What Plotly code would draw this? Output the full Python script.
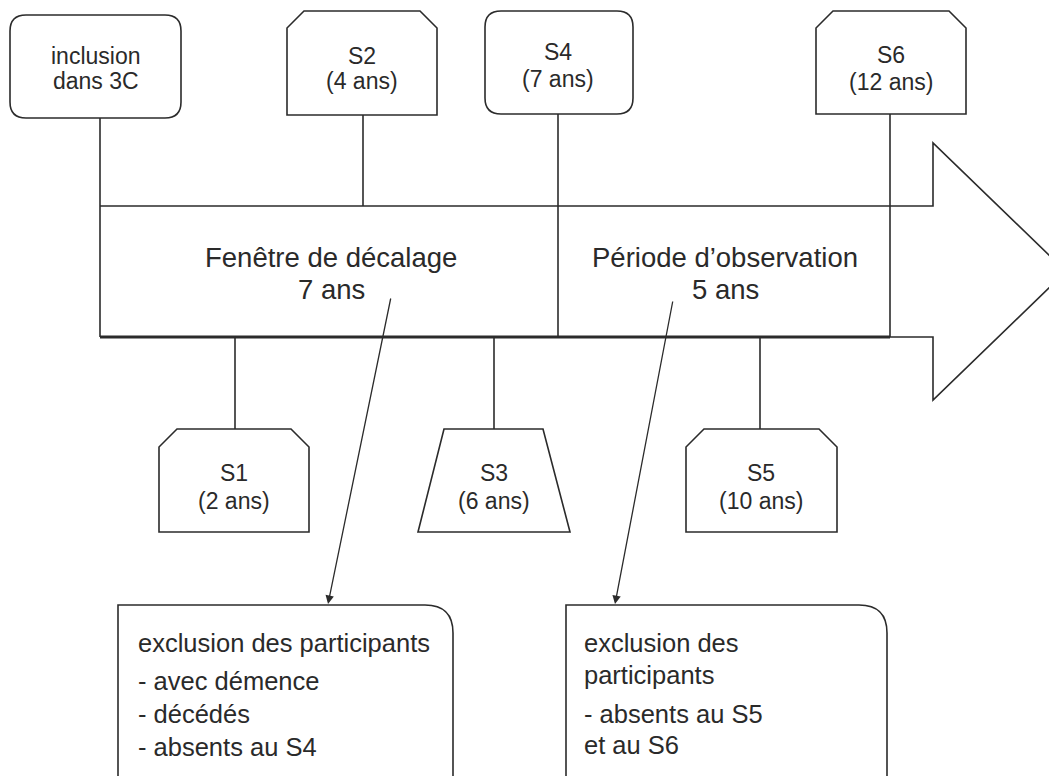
import plotly.graph_objects as go

# ---- content (text) ----
top_titles = ["inclusion", "S2", "S4", "S6"]
top_subtitles = ["dans 3C", "(4 ans)", "(7 ans)", "(12 ans)"]
bottom_titles = ["S1", "S3", "S5"]
bottom_subtitles = ["(2 ans)", "(6 ans)", "(10 ans)"]
period_titles = ["Fenêtre de décalage", "Période d\u2019observation"]
period_durations = ["7 ans", "5 ans"]
left_note = ["exclusion des participants", "- avec démence", "- décédés", "- absents au S4"]
right_note = ["exclusion des", "participants", "- absents au S5", "et au S6"]

# ---- geometry (layout of the diagram, in page pixels) ----
W, H = 1057, 776
OFF = 8  # default page margin of the browser
LINE = "#2b2b2b"
TXT = "#2a2a2a"
FONT = "Liberation Sans, Arial, sans-serif"

def rounded(x0, y0, x1, y1, r, corners="all"):
    rt = r if corners in ("all", "tr") else 0
    rl = r if corners == "all" else 0
    p = f"M{x0+rl},{y0} L{x1-rt},{y0} "
    p += f"Q{x1},{y0} {x1},{y0+rt} " if rt else ""
    p += f"L{x1},{y1-rl} "
    p += f"Q{x1},{y1} {x1-rl},{y1} " if rl else ""
    p += f"L{x0+rl},{y1} "
    p += f"Q{x0},{y1} {x0},{y1-rl} " if rl else ""
    p += f"L{x0},{y0+rl} "
    p += f"Q{x0},{y0} {x0+rl},{y0} Z" if rl else "Z"
    return p

def chamfer(x0, y0, x1, y1, c):
    return f"M{x0+c},{y0} L{x1-c},{y0} L{x1},{y0+c} L{x1},{y1} L{x0},{y1} L{x0},{y0+c} Z"

def trapezoid(xt0, xt1, xb0, xb1, y0, y1):
    return f"M{xt0},{y0} L{xt1},{y0} L{xb1},{y1} L{xb0},{y1} Z"

shapes = []
def add_path(p, width=1.6):
    shapes.append(dict(type="path", path=p, line=dict(color=LINE, width=width),
                       fillcolor="rgba(0,0,0,0)", xref="x", yref="y", layer="above"))

def add_line(x0, y0, x1, y1, width=1.6):
    shapes.append(dict(type="line", x0=x0, y0=y0, x1=x1, y1=y1,
                       line=dict(color=LINE, width=width), xref="x", yref="y", layer="above"))

# big arrow outline (open at left)
add_path("M100,206 L933,206 L933,143 L1066,271.5 L933,400 L933,337 L890,337")
add_line(100, 337, 890, 337, width=3)

# top boxes
top_boxes = [
    rounded(10, 15, 181, 118, 16),
    chamfer(287, 11, 437, 115, 17),
    rounded(485, 11, 633, 114, 16),
    chamfer(816, 11, 966, 114, 17),
]
for p in top_boxes:
    add_path(p)
top_centers = [96, 362, 558, 891]
top_title_y = [56, 56, 52, 55]
top_sub_y = [81, 81, 79, 82]

# bottom boxes
bottom_boxes = [
    chamfer(159, 429, 309, 532, 18),
    trapezoid(444, 543, 418, 570, 429, 532),
    chamfer(686, 429, 837, 532, 18),
]
for p in bottom_boxes:
    add_path(p)
bottom_centers = [234, 494, 761]

# connectors
add_line(100, 118, 100, 337)
add_line(363, 115, 363, 206)
add_line(558, 114, 558, 337)
add_line(890, 114, 890, 337)
add_line(235, 337, 235, 429)
add_line(494, 337, 494, 429)
add_line(760, 337, 760, 429)

# note boxes
add_path(rounded(118, 605, 453, 800, 28, corners="tr"))
add_path(rounded(566, 605, 887, 800, 28, corners="tr"))

annotations = []
def txt(s, x, y, size, anchor="center"):
    annotations.append(dict(text=s, x=x, y=y, xref="x", yref="y", showarrow=False,
                            xanchor=anchor, yanchor="middle",
                            font=dict(family=FONT, size=size, color=TXT)))

for t, s, cx, ty, sy in zip(top_titles, top_subtitles, top_centers, top_title_y, top_sub_y):
    txt(t, cx, ty, 23)
    txt(s, cx, sy, 23)
for t, s, cx in zip(bottom_titles, bottom_subtitles, bottom_centers):
    txt(t, cx, 473, 23)
    txt(s, cx, 501, 23)

period_centers = [331, 725]
for t, d, cx in zip(period_titles, period_durations, period_centers):
    txt(t, cx, 257, 27.5)
    txt(d, cx, 289, 27.5)

for s, y in zip(left_note, [643, 681, 714, 747]):
    txt(s, 136, y, 25.5, anchor="left")
for s, y in zip(right_note, [643, 675, 714, 745]):
    txt(s, 582, y, 25.5, anchor="left")

# pointer arrows
for (xs, ys), (xe, ye) in [((391, 297), (328, 604)), ((673, 300), (615, 604))]:
    annotations.append(dict(x=xe, y=ye, ax=xs, ay=ys, xref="x", yref="y", axref="x", ayref="y",
                            showarrow=True, arrowhead=2, arrowsize=1.3, arrowwidth=1.3,
                            arrowcolor=LINE, text=""))

fig = go.Figure()
fig.update_layout(
    width=W, height=H, margin=dict(l=0, r=0, t=0, b=0),
    paper_bgcolor="white", plot_bgcolor="white",
    xaxis=dict(range=[OFF, W + OFF], visible=False, fixedrange=True),
    yaxis=dict(range=[H + OFF, OFF], visible=False, fixedrange=True),
    shapes=shapes, annotations=annotations, showlegend=False,
)
fig.write_html("out.html")
